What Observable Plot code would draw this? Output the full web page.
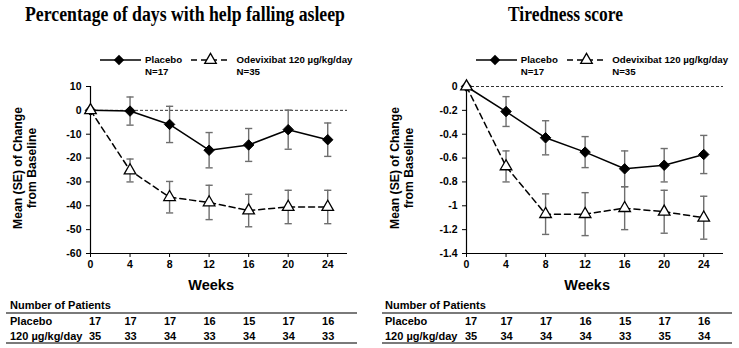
<!DOCTYPE html>
<html><head><meta charset="utf-8">
<script src="https://cdn.jsdelivr.net/npm/d3@7"></script>
<script src="https://cdn.jsdelivr.net/npm/@observablehq/plot@0.6"></script>
<style>
body{margin:0;background:#fff;}
#wrap{position:relative;width:739px;height:348px;overflow:hidden;font-family:"Liberation Sans",Arial,sans-serif;font-weight:bold;color:#000;}
.abs{position:absolute;white-space:nowrap;}
.ylab{position:absolute;width:180px;height:28px;line-height:14px;font-size:12.2px;text-align:center;transform:rotate(-90deg);transform-origin:50% 50%;}
.leg{position:absolute;font-size:9.7px;line-height:12px;}
.tbl{position:absolute;font-size:11px;line-height:13px;}
.hr{position:absolute;height:2px;background:#7a7a7a;}
</style></head><body><div id="wrap"></div>
<script>
// ---------- data ----------
const weeks = [0, 4, 8, 12, 16, 20, 24];
const panelTitles = ["Percentage of days with help falling asleep", "Tiredness score"];
const seriesNames = ["Placebo", "Odevixibat 120 µg/kg/day"];
const seriesN = ["N=17", "N=35"];
const tableRowLabels = ["Placebo", "120 µg/kg/day"];

const sleepPlaceboMean = [0, -0.3, -5.9, -16.7, -14.5, -8.1, -12.3];
const sleepPlaceboSE   = [0, 5.9, 7.6, 7.4, 6.9, 8.2, 7.0];
const sleepOdeMean     = [0, -25.2, -36.4, -38.6, -42.0, -40.5, -40.5];
const sleepOdeSE       = [0, 4.8, 6.6, 7.2, 6.8, 7.0, 7.0];
const sleepYTicks      = [10, 0, -10, -20, -30, -40, -50, -60];
const sleepNPlacebo    = [17, 17, 17, 16, 15, 17, 16];
const sleepNOde        = [35, 33, 34, 33, 34, 34, 33];

const tiredPlaceboMean = [0, -0.21, -0.43, -0.55, -0.69, -0.66, -0.57];
const tiredPlaceboSE   = [0, 0.125, 0.143, 0.13, 0.15, 0.14, 0.16];
const tiredOdeMean     = [0, -0.67, -1.07, -1.07, -1.02, -1.05, -1.10];
const tiredOdeSE       = [0, 0.13, 0.17, 0.18, 0.18, 0.18, 0.18];
const tiredYTicks      = [0, -0.2, -0.4, -0.6, -0.8, -1, -1.2, -1.4];
const tiredNPlacebo    = [17, 17, 17, 16, 15, 17, 16];
const tiredNOde        = [35, 34, 34, 34, 33, 35, 34];

// ---------- layout ----------
const panels = [
  {left:0, width:370, ml:90, mr:23, title:panelTitles[0], titleX:25, titleW:320,
   pm:sleepPlaceboMean, ps:sleepPlaceboSE, om:sleepOdeMean, os:sleepOdeSE, yTicks:sleepYTicks,
   np:sleepNPlacebo, no:sleepNOde, ylabCx:25, legX:100, tblLabelX:10, hrX1:6, hrX2:357},
  {left:370, width:369, ml:96, mr:16, title:panelTitles[1], titleX:508, titleW:115,
   pm:tiredPlaceboMean, ps:tiredPlaceboSE, om:tiredOdeMean, os:tiredOdeSE, yTicks:tiredYTicks,
   np:tiredNPlacebo, no:tiredNOde, ylabCx:401.5, legX:475.7, tblLabelX:15, hrX1:12, hrX2:362}
];

const wrap = document.getElementById("wrap");
const SVGNS = "http://www.w3.org/2000/svg";
function el(html){ const d = document.createElement("div"); d.innerHTML = html; const n = d.firstElementChild; wrap.appendChild(n); return n; }

// titles
{
  const svg = document.createElementNS(SVGNS, "svg");
  svg.setAttribute("width", 739); svg.setAttribute("height", 30);
  svg.style.position = "absolute"; svg.style.left = "0px"; svg.style.top = "0px";
  for (const p of panels) {
    const t = document.createElementNS(SVGNS, "text");
    t.setAttribute("x", p.titleX); t.setAttribute("y", 21);
    t.setAttribute("textLength", p.titleW); t.setAttribute("lengthAdjust", "spacingAndGlyphs");
    t.setAttribute("font-family", "'Liberation Serif','Times New Roman',serif");
    t.setAttribute("font-weight", "bold"); t.setAttribute("font-size", "20");
    t.textContent = p.title;
    svg.appendChild(t);
  }
  wrap.appendChild(svg);
}

const capSymbol = {draw(ctx, size){ const w = Math.sqrt(size/Math.PI); ctx.moveTo(-w,0); ctx.lineTo(w,0); }};
const errColor = "#6e6e6e";

for (const p of panels) {
  const rows = (mean, se) => weeks.map((w,i) => ({week:w, mean:mean[i], se:se[i]}));
  const plac = rows(p.pm, p.ps), ode = rows(p.om, p.os);
  const withErr = d => d.se > 0;
  const caps = data => data.filter(withErr).flatMap(d => [{week:d.week, y:d.mean - d.se}, {week:d.week, y:d.mean + d.se}]);
  const yMin = d3.min(p.yTicks), yMax = d3.max(p.yTicks);
  const chart = Plot.plot({
    width: p.width, height: 214, marginLeft: p.ml, marginRight: p.mr, marginTop: 6, marginBottom: 41,
    style: {fontFamily:"'Liberation Sans',Arial,sans-serif", fontSize:"10.5px", fontWeight:"bold", color:"#000", background:"transparent", overflow:"visible"},
    x: {domain:[0, 26], ticks: weeks, tickSize:4, tickPadding:3.5, tickFormat: d => String(d), label:null},
    y: {domain:[yMin, yMax], ticks: p.yTicks, tickSize:4, tickPadding:5, tickFormat: d => String(d), label:null},
    marks: [
      Plot.ruleY([0], {stroke:"#333", strokeWidth:1, strokeDasharray:"3,2"}),
      Plot.ruleX([0], {stroke:"#000", strokeWidth:1.2}),
      Plot.ruleY([yMin], {stroke:"#000", strokeWidth:1.2}),
      Plot.ruleX(plac.filter(withErr), {x:"week", y1: d => d.mean - d.se, y2: d => d.mean + d.se, stroke:errColor, strokeWidth:1.4}),
      Plot.dot(caps(plac), {x:"week", y:"y", symbol:capSymbol, r:3.6, fill:"none", stroke:errColor, strokeWidth:1.4}),
      Plot.ruleX(ode.filter(withErr), {x:"week", y1: d => d.mean - d.se, y2: d => d.mean + d.se, stroke:errColor, strokeWidth:1.4}),
      Plot.dot(caps(ode), {x:"week", y:"y", symbol:capSymbol, r:3.6, fill:"none", stroke:errColor, strokeWidth:1.4}),
      Plot.line(plac, {x:"week", y:"mean", stroke:"#000", strokeWidth:1.5}),
      Plot.line(ode, {x:"week", y:"mean", stroke:"#000", strokeWidth:1.5, strokeDasharray:"6,4"}),
      Plot.dot(plac, {x:"week", y:"mean", symbol:"diamond2", r:4.7, fill:"#000", stroke:"#000", strokeWidth:1}),
      Plot.dot(ode, {x:"week", y:"mean", symbol:"triangle", r:4.3, fill:"#fff", stroke:"#000", strokeWidth:1.3})
    ]
  });
  chart.style.position = "absolute";
  chart.style.left = p.left + "px";
  chart.style.top = "80px";
  wrap.appendChild(chart);
  const xs = chart.scale("x");
  const X = w => p.left + xs.apply(w);

  // y axis label
  el(`<div class="ylab" style="left:${p.ylabCx - 90}px;top:${168 - 14}px">Mean (SE) of Change<br>from Baseline</div>`);
  // x axis label
  const midX = (X(weeks[0]) + X(weeks[weeks.length-1])) / 2 + 2.5;
  el(`<div class="abs" style="left:${midX - 40}px;width:80px;text-align:center;top:276px;font-size:14.5px;line-height:18px">Weeks</div>`);

  // legend
  const L = p.legX, ly = 59.5;
  const lsvg = document.createElementNS(SVGNS, "svg");
  lsvg.setAttribute("width", 140); lsvg.setAttribute("height", 20);
  lsvg.style.position = "absolute"; lsvg.style.left = L + "px"; lsvg.style.top = (ly - 10) + "px";
  lsvg.innerHTML =
    `<line x1="0" x2="41" y1="10" y2="10" stroke="#000" stroke-width="1.5"/>` +
    `<path d="${d3.symbol(d3.symbolDiamond2, 4.7*4.7*Math.PI)()}" transform="translate(19,10)" fill="#000"/>` +
    `<line x1="91" x2="129" y1="10" y2="10" stroke="#000" stroke-width="1.5" stroke-dasharray="6,4"/>` +
    `<path d="${d3.symbol(d3.symbolTriangle, 4.3*4.3*Math.PI)()}" transform="translate(110.5,10)" fill="#fff" stroke="#000" stroke-width="1.3"/>`;
  wrap.appendChild(lsvg);
  el(`<div class="leg" style="left:${L + 45}px;top:${ly - 6}px">${seriesNames[0]}<br>${seriesN[0]}</div>`);
  el(`<div class="leg" style="left:${L + 136.5}px;top:${ly - 6}px">${seriesNames[1]}<br>${seriesN[1]}</div>`);

  // patient table
  const tx = p.left + p.tblLabelX;
  el(`<div class="tbl" style="left:${tx}px;top:${305.7 - 6.5}px">Number of Patients</div>`);
  el(`<div class="hr" style="left:${p.left + p.hrX1}px;width:${p.hrX2 - p.hrX1}px;top:312.3px"></div>`);
  el(`<div class="hr" style="left:${p.left + p.hrX1}px;width:${p.hrX2 - p.hrX1}px;top:342.3px"></div>`);
  const rowY = [321.7, 336];
  const rowVals = [p.np, p.no];
  rowY.forEach((y, r) => {
    el(`<div class="tbl" style="left:${tx}px;top:${y - 6.5}px">${tableRowLabels[r]}</div>`);
    weeks.forEach((w, i) => {
      const cx = X(w) + (i === 0 ? 5 : 1);
      el(`<div class="tbl" style="left:${cx - 15}px;width:30px;text-align:center;top:${y - 6.5}px">${rowVals[r][i]}</div>`);
    });
  });
}
</script>
</body></html>
